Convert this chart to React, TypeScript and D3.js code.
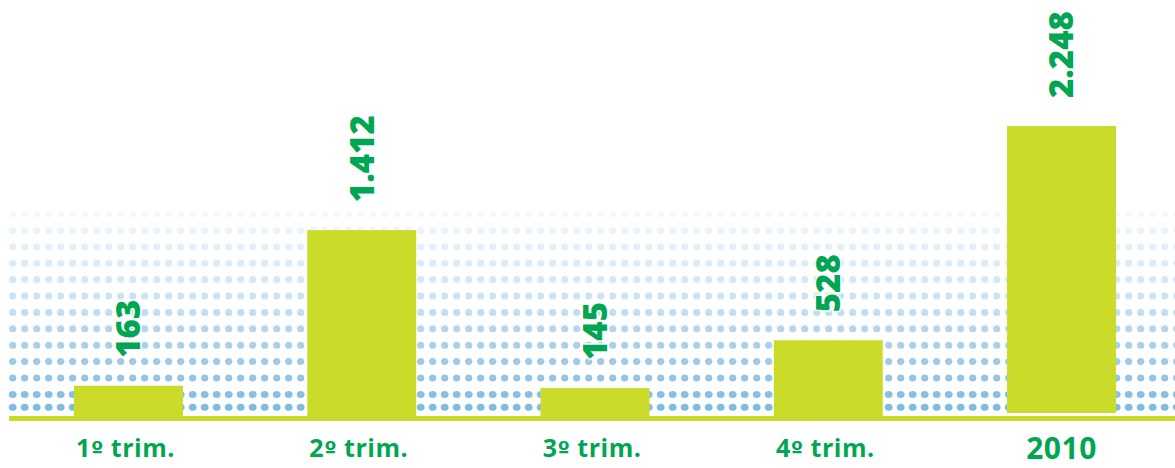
import React, { useEffect, useRef } from 'react';
import * as d3 from 'd3';

// chart values
const categories = ['1º trim.', '2º trim.', '3º trim.', '4º trim.', '2010'];
const values = [163, 1412, 145, 528, 2248];
const valueLabels = ['163', '1.412', '145', '528', '2.248'];

const WIDTH = 1175;
const HEIGHT = 468;

const App: React.FC = () => {
  const svgRef = useRef<SVGSVGElement>(null);

  useEffect(() => {
    if (!svgRef.current) return;
    const svg = d3.select(svgRef.current);
    svg.selectAll('*').remove();

    const baseY = 416;

    const x = d3.scaleBand<string>()
      .domain(categories)
      .range([74, 1116])
      .paddingInner(0.533)
      .paddingOuter(0);

    // value axis does not start at zero in the original
    const y = d3.scaleLinear()
      .domain([-80, 2248])
      .range([baseY, 126]);

    // dotted background
    const dots = svg.append('g');
    const rowYs = [...d3.range(12).map(i => 214 + i * 16.4), 407.3];
    const colXs = d3.range(98).map(i => 12.7 + i * 12);
    const color = d3.scaleLinear<string>()
      .domain([214, 300, 407])
      .range(['#f4f9fd', '#c9e1f3', '#80bbe2'])
      .interpolate(d3.interpolateRgb);

    rowYs.forEach(ry => {
      dots.selectAll(null)
        .data(colXs)
        .join('ellipse')
        .attr('cx', d => d)
        .attr('cy', ry)
        .attr('rx', ry > 390 ? 3.9 : 3.6)
        .attr('ry', 3.5)
        .attr('fill', color(ry));
    });

    // baseline
    svg.append('rect')
      .attr('x', 9)
      .attr('y', baseY)
      .attr('width', WIDTH - 9)
      .attr('height', 5)
      .attr('fill', '#c9da2b');

    // bars
    svg.selectAll('.bar')
      .data(values)
      .join('rect')
      .attr('class', 'bar')
      .attr('x', (_, i) => x(categories[i])!)
      .attr('width', x.bandwidth())
      .attr('y', d => y(d))
      .attr('height', (d, i) => (i === 4 ? baseY - 3 : baseY) - y(d))
      .attr('fill', '#cadb2a');

    // value labels, rotated
    svg.selectAll('.val')
      .data(values)
      .join('text')
      .attr('class', 'val')
      .attr('transform', (d, i) => `translate(${x(categories[i])! + x.bandwidth() / 2},${y(d) - 28}) rotate(-90)`)
      .attr('dy', '0.36em')
      .attr('text-anchor', 'start')
      .style('font-family', '"Open Sans", sans-serif')
      .style('font-weight', 800)
      .style('font-size', '33px')
      .attr('fill', '#00a651')
      .attr('stroke', '#ffffff')
      .attr('stroke-width', 3)
      .attr('paint-order', 'stroke')
      .text((_, i) => valueLabels[i]);

    // category labels
    const cats = svg.selectAll('.cat')
      .data(categories)
      .join('text')
      .attr('class', 'cat')
      .attr('x', d => x(d)! + x.bandwidth() / 2 - (d === '2010' ? 0 : 3))
      .attr('y', d => (d === '2010' ? 459 : 457))
      .attr('text-anchor', 'middle')
      .style('font-family', '"Open Sans", sans-serif')
      .style('font-weight', 700)
      .style('font-size', d => (d === '2010' ? '30px' : '25px'))
      .style('letter-spacing', d => (d === '2010' ? '0.5px' : '0.5px'))
      .attr('fill', '#00a651');

    // the ordinal sign in the original is underlined, as in DejaVu Sans
    cats.each(function (d) {
      const t = d3.select(this);
      if (d.includes('º')) {
        const [a, b] = d.split('º');
        t.append('tspan').text(a);
        t.append('tspan').style('font-family', '"DejaVu Sans", sans-serif').style('font-size', '22px').text('º');
        t.append('tspan').text(b);
      } else {
        t.text(d);
      }
    });
  }, []);

  return (
    <div style={{ position: 'absolute', left: 0, top: 0, width: WIDTH, height: HEIGHT, background: '#fff' }}>
      <svg ref={svgRef} width={WIDTH} height={HEIGHT} style={{ display: 'block' }} />
    </div>
  );
};

export default App;
